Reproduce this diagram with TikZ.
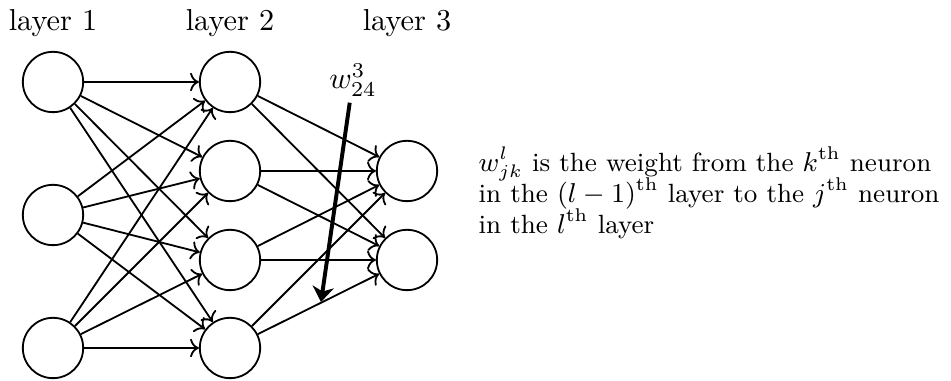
\documentclass[tikz,border=0pt]{standalone}
\usepackage{amsmath}
\usetikzlibrary{positioning, arrows.meta}

\newcommand{\notefont}{\fontsize{8.7}{10.2}\selectfont\lineskiplimit=-10pt\relax}

\begin{document}
\begin{tikzpicture}[
        x=0.0116cm, y=-0.0116cm,
        neuron/.style={circle, draw, semithick, minimum size=0.7cm, inner sep=0pt},
        layerlbl/.style={font=\normalsize},
        conn/.style={->, semithick},
        bigarrow/.style={-{Stealth[length=5pt, width=7pt, inset=1.5pt]}, line width=1.3pt, shorten <=2pt},
    ]
        \useasboundingbox (0,0) rectangle (951,381);

        % ====== neurons ======
        \node[neuron] (a1) at (53,82)  {};
        \node[neuron] (a2) at (53,215) {};
        \node[neuron] (a3) at (53,348) {};

        \node[neuron] (b1) at (230,82)  {};
        \node[neuron] (b2) at (230,171) {};
        \node[neuron] (b3) at (230,260) {};
        \node[neuron] (b4) at (230,348) {};

        \node[neuron] (c1) at (407,171) {};
        \node[neuron] (c2) at (407,260) {};

        % layer titles
        \node[layerlbl] (t1) at (53,23)  {layer 1};
        \node[layerlbl] (t2) at (230,23) {layer 2};
        \node[layerlbl] (t3) at (407,23) {layer 3};

        % ====== connections ======
        \foreach \i in {1,2,3}
            \foreach \j in {1,2,3,4}
                \draw[conn] (a\i) -- (b\j);
        \foreach \j in {1,2,3,4}
            \foreach \k in {1,2}
                \draw[conn] (b\j) -- (c\k);

        % weight label with its arrow
        \node[inner sep=0pt] (wlbl) at (353,80) {$w^3_{24}$};
        \coordinate (wtip) at (321,302);
        \draw[bigarrow] (wlbl) -- (wtip);

        % explanation on the right
        \node[anchor=west, align=left, font=\notefont] (note) at (468,193)
            {$w^l_{jk}$ is the weight from the $k^{\text{th}}$ neuron\\
             in the $(l-1)^{\text{th}}$ layer to the $j^{\text{th}}$ neuron\\
             in the $l^{\text{th}}$ layer};
\end{tikzpicture}
\end{document}
